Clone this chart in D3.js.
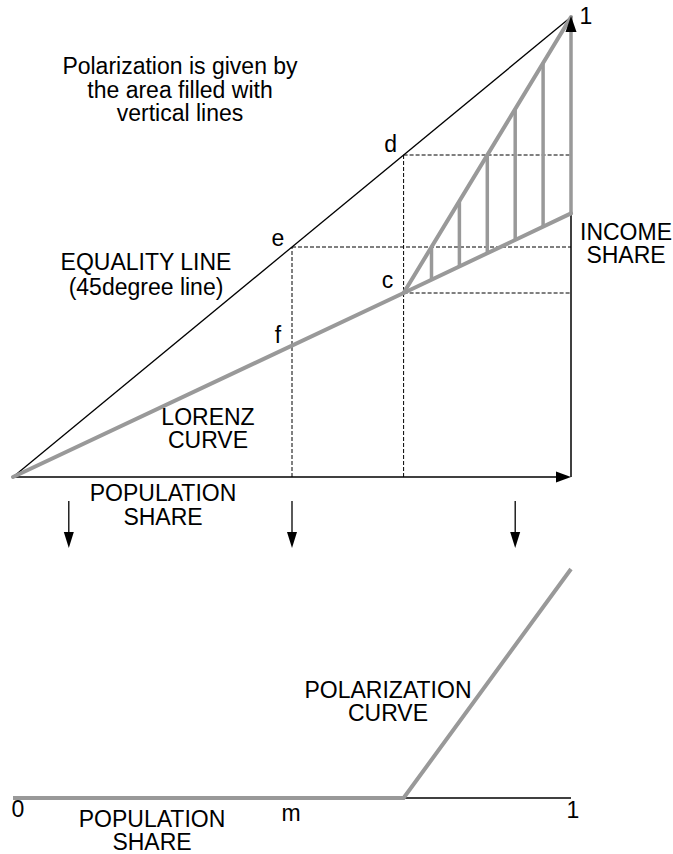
<!DOCTYPE html>
<html>
<head>
<meta charset="utf-8">
<script src="https://cdn.jsdelivr.net/npm/d3@7"></script>
<style>
  body { margin: 0; background: #fff; }
  text { font-family: "Liberation Sans", Arial, sans-serif; fill: #000; }
</style>
</head>
<body>
<script>
// Lorenz curve (population share -> income share)
var lorenzX = [0, 0.7, 1];
var lorenzY = [0, 0.4, 0.573];
// upper boundary of the hatched area, from c to the top corner
var upperX = [0.7, 1];
var upperY = [0.4, 1];
// vertical hatch lines
var hatchX = [0.75, 0.8, 0.85, 0.9, 0.95, 1.0];
// dashed guides at f/e and c/d
var guideX = [0.5, 0.7];
// arrows between the two panels
var arrowX = [0.1, 0.5, 0.9];
// polarization curve
var polarX = [0, 0.7, 1];
var polarY = [0, 0, 1];

function init() {
    var w = 673, h = 854;
    var grey = "#999999";

    var svg = d3.select("body").append("svg")
        .attr("width", w)
        .attr("height", h);

    var x = d3.scaleLinear().domain([0, 1]).range([13, 571]);
    var y = d3.scaleLinear().domain([0, 1]).range([477, 17]);
    var yb = d3.scaleLinear().domain([0, 1]).range([798, 569]);

    var lorenz = d3.scaleLinear().domain(lorenzX).range(lorenzY);
    var upper = d3.scaleLinear().domain(upperX).range(upperY);
    var equal = function(v) { return v; };

    var line = d3.line()
        .x(function(d) { return x(d[0]); })
        .y(function(d) { return y(d[1]); });

    function dashed(x1, y1, x2, y2) {
        svg.append("line")
            .attr("x1", x1).attr("y1", y1)
            .attr("x2", x2).attr("y2", y2)
            .attr("stroke", "#000").attr("stroke-width", 1)
            .attr("stroke-dasharray", "4,2");
    }

    // dashed guides
    guideX.forEach(function(g) {
        dashed(x(g), y(0), x(g), y(equal(g)));
        dashed(x(g), y(equal(g)), x(1), y(equal(g)));
    });
    dashed(x(0.7), y(lorenz(0.7)), x(1), y(lorenz(0.7)));

    // axes
    svg.append("line")
        .attr("x1", x(0)).attr("x2", x(1) - 10)
        .attr("y1", y(0)).attr("y2", y(0))
        .attr("stroke", "#000").attr("stroke-width", 1.5);
    svg.append("path")
        .attr("d", "M" + x(1) + "," + y(0) + "l-15,-5.5l0,11z")
        .attr("fill", "#000");
    svg.append("line")
        .attr("x1", x(1)).attr("x2", x(1))
        .attr("y1", y(0)).attr("y2", y(1) + 10)
        .attr("stroke", "#000").attr("stroke-width", 1.5);

    // equality line
    svg.append("path")
        .attr("d", line([[0, 0], [1, 1]]))
        .attr("fill", "none")
        .attr("stroke", "#000").attr("stroke-width", 1.3);

    // hatch lines
    svg.selectAll(".hatch")
        .data(hatchX)
        .enter()
        .append("line")
        .attr("class", "hatch")
        .attr("x1", function(d) { return x(d); })
        .attr("x2", function(d) { return x(d); })
        .attr("y1", function(d) { return y(lorenz(d)); })
        .attr("y2", function(d) { return y(upper(d)); })
        .attr("stroke", grey).attr("stroke-width", 3.5);

    // lorenz curve and upper boundary
    svg.append("path")
        .attr("d", line(lorenzX.map(function(v, i) { return [v, lorenzY[i]]; })))
        .attr("fill", "none")
        .attr("stroke", grey).attr("stroke-width", 4)
        .attr("stroke-linecap", "round");
    svg.append("path")
        .attr("d", line(upperX.map(function(v, i) { return [v, upperY[i]]; })))
        .attr("fill", "none")
        .attr("stroke", grey).attr("stroke-width", 4)
        .attr("stroke-linecap", "round");

    // vertical arrowhead
    svg.append("path")
        .attr("d", "M" + x(1) + "," + (y(1) - 1) + "l-5.5,16l11,0z")
        .attr("fill", "#000");

    // arrows down to the lower panel
    arrowX.forEach(function(a) {
        svg.append("line")
            .attr("x1", x(a)).attr("x2", x(a))
            .attr("y1", 501).attr("y2", 535)
            .attr("stroke", "#000").attr("stroke-width", 1.3);
        svg.append("path")
            .attr("d", "M" + x(a) + ",548l-5,-16l10,0z")
            .attr("fill", "#000");
    });

    // lower panel
    svg.append("line")
        .attr("x1", x(0)).attr("x2", x(1))
        .attr("y1", yb(0)).attr("y2", yb(0))
        .attr("stroke", "#000").attr("stroke-width", 1.5);
    svg.append("path")
        .attr("d", d3.line()
            .x(function(d) { return x(d[0]); })
            .y(function(d) { return yb(d[1]); })(polarX.map(function(v, i) { return [v, polarY[i]]; })))
        .attr("fill", "none")
        .attr("stroke", grey).attr("stroke-width", 4);

    // labels
    var fs = 23;
    function label(lines, cx, cy, gap) {
        var t = svg.append("text")
            .attr("text-anchor", "middle")
            .attr("font-size", fs);
        lines.forEach(function(s, i) {
            t.append("tspan")
                .attr("x", cx)
                .attr("y", cy + i * (gap || 23.5))
                .text(s);
        });
    }

    label(["Polarization is given by", "the area filled with", "vertical lines"], 180, 74);
    label(["EQUALITY LINE", "(45degree line)"], 146, 270, 24.5);
    label(["LORENZ", "CURVE"], 208, 424.5);
    label(["INCOME", "SHARE"], 626, 239.5);
    label(["POPULATION", "SHARE"], 163, 501);
    label(["POLARIZATION", "CURVE"], 388, 697.5);
    label(["POPULATION", "SHARE"], 152, 826.5);

    label(["d"], x(0.7) - 13, y(0.7) - 3);
    label(["e"], x(0.5) - 14, y(0.5) - 1);
    label(["c"], x(0.7) - 16, y(lorenz(0.7)) - 5);
    label(["f"], x(0.5) - 14, y(lorenz(0.5)) - 3);
    label(["1"], x(1) + 15, y(1) + 7);
    label(["0"], x(0) + 5, yb(0) + 19);
    label(["m"], x(0.5) - 1, yb(0) + 23);
    label(["1"], x(1) + 2, yb(0) + 20);
}
window.onload = init;
</script>
</body>
</html>
